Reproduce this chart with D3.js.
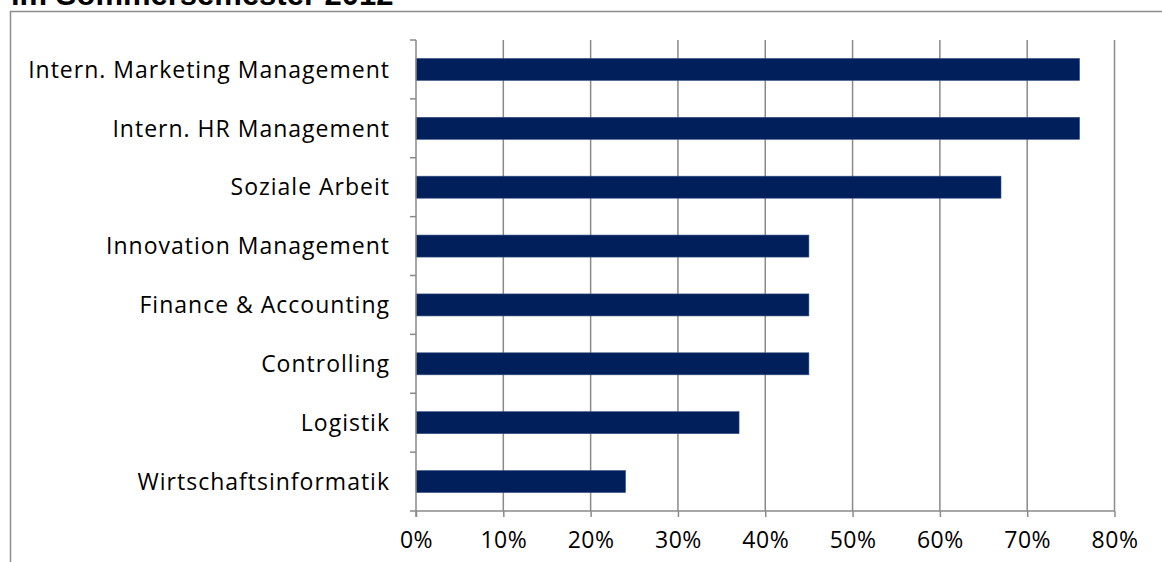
<!DOCTYPE html>
<html>
<head>
<meta charset="utf-8">
<script src="https://cdn.jsdelivr.net/npm/d3@7"></script>
<style>
  html, body { margin: 0; padding: 0; background: #fff; }
  svg { display: block; }
</style>
</head>
<body>
<svg id="chart" width="1162" height="562"></svg>
<script>
// Study programmes and their shares (in %)
const categories = [
  "Intern. Marketing Management",
  "Intern. HR Management",
  "Soziale Arbeit",
  "Innovation Management",
  "Finance & Accounting",
  "Controlling",
  "Logistik",
  "Wirtschaftsinformatik"
];
const values = [76, 76, 67, 45, 45, 45, 37, 24];
const xTicks = [0, 10, 20, 30, 40, 50, 60, 70, 80];
const titleText = "im Sommersemester 2012";

const svg = d3.select("#chart");
const labelFont = "'Open Sans', 'Noto Sans', sans-serif";
const gridColor = "#8a8a8a";
const barColor = "#001f5b";

// Title (sits above the chart frame)
svg.append("text")
  .attr("x", 11)
  .attr("y", 5)
  .attr("font-family", "'Liberation Sans', Arial, sans-serif")
  .attr("font-weight", "bold")
  .attr("font-size", 31)
  .attr("fill", "#000")
  .text(titleText);

// Chart frame
svg.append("path")
  .attr("d", "M10.5,570 V11.5 H1170")
  .attr("fill", "none")
  .attr("stroke", "#8c8c8c")
  .attr("stroke-width", 1.5);

const plot = { left: 416, right: 1114.5, top: 40, bottom: 511 };

const x = d3.scaleLinear()
  .domain([0, 80])
  .range([plot.left, plot.right]);

const y = d3.scaleBand()
  .domain(categories)
  .range([plot.top, plot.bottom])
  .paddingInner(0.626)
  .paddingOuter(0.313);

// Vertical gridlines
svg.append("g")
  .selectAll("line")
  .data(xTicks.filter(d => d > 0))
  .join("line")
  .attr("x1", d => x(d)).attr("x2", d => x(d))
  .attr("y1", plot.top).attr("y2", plot.bottom)
  .attr("stroke", gridColor)
  .attr("stroke-width", 1.5);

// Bars
svg.append("g")
  .selectAll("rect")
  .data(categories.map((c, i) => ({ c, v: values[i] })))
  .join("rect")
  .attr("x", x(0))
  .attr("y", d => y(d.c))
  .attr("width", d => x(d.v) - x(0))
  .attr("height", y.bandwidth())
  .attr("fill", barColor)
  .attr("stroke", "#3a5284")
  .attr("stroke-width", 0.6);

// X axis (bottom) with percent labels
const xAxis = d3.axisBottom(x)
  .tickValues(xTicks)
  .tickFormat(d => d + "%")
  .tickSize(6)
  .tickPadding(15)
  .tickSizeOuter(0);

const gx = svg.append("g")
  .attr("transform", `translate(0,${plot.bottom})`)
  .call(xAxis);
gx.select(".domain").remove();
gx.append("line")
  .attr("x1", plot.left - 6).attr("x2", plot.right)
  .attr("y1", 0).attr("y2", 0)
  .attr("stroke", gridColor).attr("stroke-width", 1.5);
gx.selectAll(".tick line").attr("stroke", gridColor).attr("stroke-width", 1.5);
gx.selectAll(".tick text")
  .attr("font-family", labelFont)
  .attr("font-size", 23)
  .attr("letter-spacing", 0.5)
  .attr("fill", "#000");

// Y axis with tick marks at the category boundaries
svg.append("line")
  .attr("x1", plot.left).attr("x2", plot.left)
  .attr("y1", plot.top).attr("y2", plot.bottom + 6)
  .attr("stroke", gridColor).attr("stroke-width", 1.5);

const boundaries = d3.range(categories.length).map(i => y.step() * i + plot.top);
svg.append("g")
  .selectAll("line")
  .data(boundaries)
  .join("line")
  .attr("x1", plot.left - 6).attr("x2", plot.left)
  .attr("y1", d => d).attr("y2", d => d)
  .attr("stroke", gridColor).attr("stroke-width", 1.5);

// Category labels
svg.append("g")
  .selectAll("text")
  .data(categories)
  .join("text")
  .attr("x", plot.left - 26)
  .attr("y", d => y(d) + y.bandwidth() / 2)
  .attr("dy", "0.36em")
  .attr("text-anchor", "end")
  .attr("font-family", labelFont)
  .attr("font-size", 23)
  .attr("letter-spacing", 1)
  .attr("fill", "#000")
  .text(d => d);
</script>
</body>
</html>
